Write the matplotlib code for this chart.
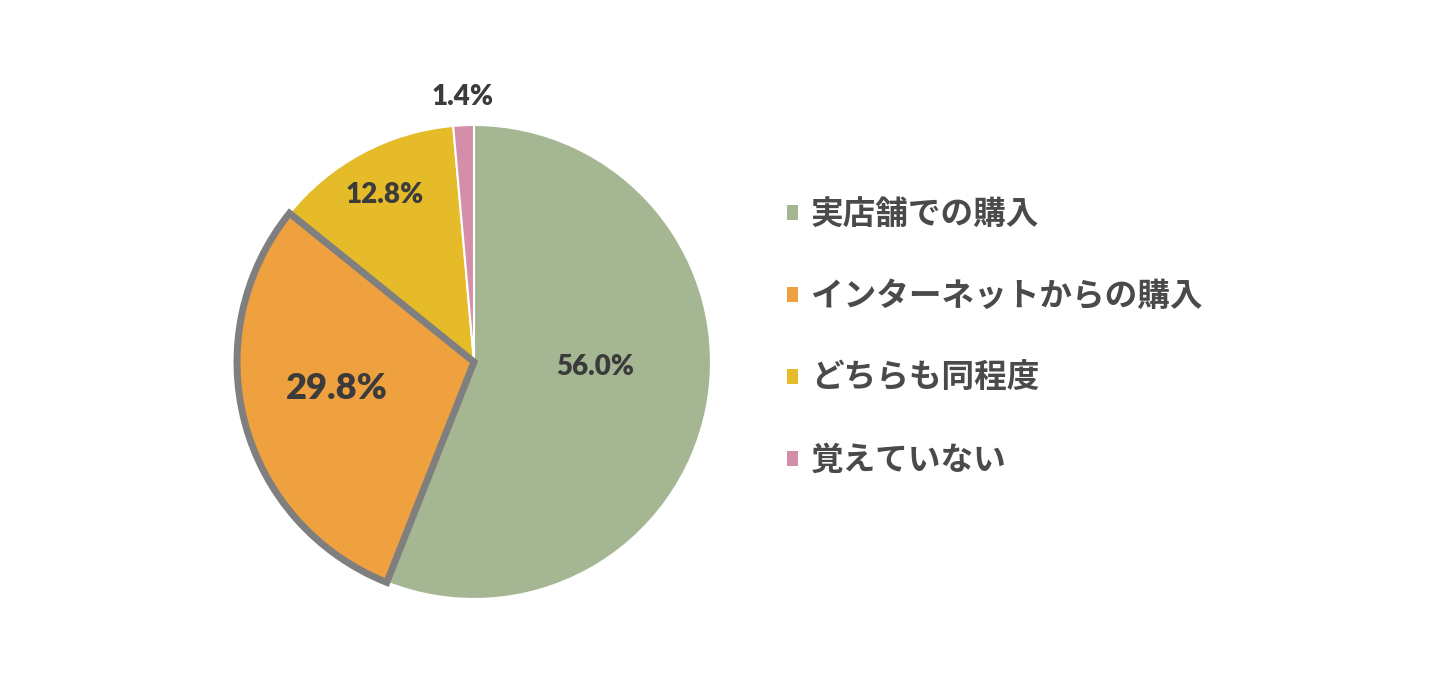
import numpy as np
import matplotlib
matplotlib.use('Agg')
import matplotlib.pyplot as plt
from matplotlib.patches import Patch

# survey shares (%), clockwise from 12 o'clock
categories = ['実店舗での購入', 'インターネットからの購入', 'どちらも同程度', '覚えていない']
shares = [56.0, 29.8, 12.8, 1.4]
pct_labels = ['56.0%', '29.8%', '12.8%', '1.4%']
colors = ['#a5b693', '#f0a13f', '#e6bb2a', '#d58ea9']

plt.rcParams['font.family'] = ['Noto Sans CJK JP', 'DejaVu Sans']

W, H = 1440, 700
fig = plt.figure(figsize=(W / 100, H / 100), dpi=100)

cx, cy, r = 474, 362, 237
ax = fig.add_axes([(cx - r) / W, (H - cy - r) / H, 2 * r / W, 2 * r / H])

wedges, _ = ax.pie(shares, colors=colors, startangle=90, counterclock=False,
                   radius=1.0,
                   wedgeprops=dict(edgecolor='white', linewidth=1.5))
# highlighted slice
wedges[1].set_edgecolor('#7f7f7f')
wedges[1].set_linewidth(5)
wedges[1].set_joinstyle('miter')
wedges[1].set_zorder(5)

ax.set_xlim(-1, 1)
ax.set_ylim(-1, 1)
ax.set_aspect('equal')
ax.axis('off')

# label distance from centre, vertical nudge and size for each slice
label_dist = [0.52, 0.60, 0.80, 1.12]
label_nudge = [0.075, 0.04, 0.0, 0.0]
label_size = [20, 26, 20, 20]
for w, lab, d, dy, fs in zip(wedges, pct_labels, label_dist, label_nudge, label_size):
    ang = np.deg2rad((w.theta1 + w.theta2) / 2)
    ax.text(d * np.cos(ang), d * np.sin(ang) + dy, lab, ha='center', va='center',
            fontsize=fs, fontweight='heavy', family='Lato', color='#3b3b3b',
            zorder=10)

handles = [Patch(facecolor=c, edgecolor='none') for c in colors]
fig.legend(handles, categories, loc='upper left',
           bbox_to_anchor=(787 / W, 1 - 198 / H), frameon=False,
           fontsize=23.5, labelcolor='#4a4a4a',
           handlelength=0.33, handleheight=0.33, handletextpad=0.4,
           labelspacing=1.5, borderpad=0, borderaxespad=0)
for t in fig.legends[0].get_texts():
    t.set_fontweight('bold')

fig.savefig('out.png', dpi=100, facecolor='white')
